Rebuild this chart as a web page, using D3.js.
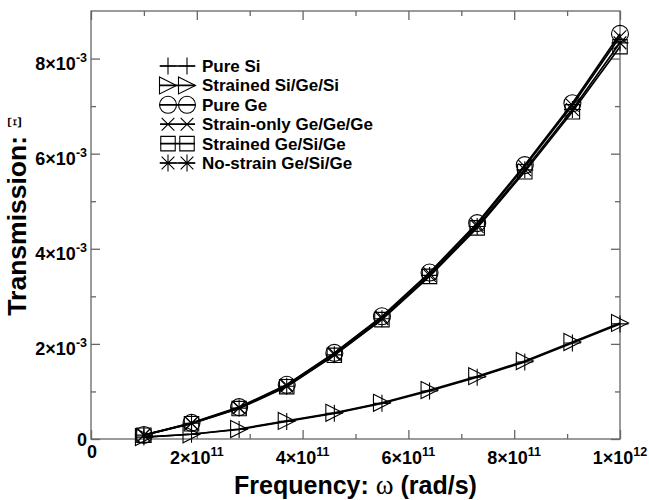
<!DOCTYPE html>
<html>
<head>
<meta charset="utf-8">
<script src="https://cdn.jsdelivr.net/npm/d3@7"></script>
<style>
  body { margin: 0; background: white; }
  svg { display: block; font-family: 'Liberation Sans', Arial, sans-serif; }
</style>
</head>
<body>
<svg id="chart" width="649" height="500"></svg>
<script>
// frequency points (rad/s)
const freq = [1e11, 1.9e11, 2.8e11, 3.7e11, 4.6e11, 5.5e11, 6.4e11, 7.3e11, 8.2e11, 9.1e11, 1e12]

// transmission, in units of 1e-3
const pureSi = [0.04, 0.10, 0.20, 0.37, 0.54, 0.75, 1.01, 1.30, 1.62, 2.02, 2.42]
const strainedSiGeSi = [0.04, 0.10, 0.21, 0.38, 0.55, 0.76, 1.03, 1.32, 1.64, 2.04, 2.44]
const pureGe = [0.085, 0.34, 0.67, 1.14, 1.81, 2.58, 3.50, 4.54, 5.76, 7.06, 8.52]
const strainOnlyGe = [0.083, 0.33, 0.66, 1.13, 1.80, 2.56, 3.48, 4.51, 5.73, 7.02, 8.46]
const strainedGeSiGe = [0.08, 0.32, 0.64, 1.10, 1.76, 2.51, 3.42, 4.44, 5.62, 6.88, 8.25]
const noStrainGeSiGe = [0.081, 0.33, 0.65, 1.11, 1.77, 2.53, 3.44, 4.47, 5.66, 6.93, 8.33]

const seriesNames = ['Pure Si', 'Strained Si/Ge/Si', 'Pure Ge', 'Strain-only Ge/Ge/Ge', 'Strained Ge/Si/Ge', 'No-strain Ge/Si/Ge']
const seriesValues = [pureSi, strainedSiGeSi, pureGe, strainOnlyGe, strainedGeSiGe, noStrainGeSiGe]
const seriesMarkers = ['plus', 'triangle', 'circle', 'times', 'square', 'asterisk']

const xMajor = [0, 2e11, 4e11, 6e11, 8e11, 1e12]
const xMajorLabels = [['0', ''], ['2×10', '11'], ['4×10', '11'], ['6×10', '11'], ['8×10', '11'], ['1×10', '12']]
const xMinor = [1e11, 3e11, 5e11, 7e11, 9e11]
const yMajor = [0, 2e-3, 4e-3, 6e-3, 8e-3]
const yMajorLabels = [['0', ''], ['2×10', '-3'], ['4×10', '-3'], ['6×10', '-3'], ['8×10', '-3']]
const yMinor = [1e-3, 3e-3, 5e-3, 7e-3]

const margin = { top: 11, right: 29, bottom: 61, left: 91 }
const width = 649
const height = 500

const x = d3.scaleLinear().domain([0, 1e12]).range([margin.left, width - margin.right])
const y = d3.scaleLinear().domain([0, 9e-3]).range([height - margin.bottom, margin.top])

const svg = d3.select('#chart')

// marker shapes, r = half size
function markerPath (type, r) {
  const p = d3.path()
  if (type === 'plus') {
    p.moveTo(-r, 0); p.lineTo(r, 0)
    p.moveTo(0, -r); p.lineTo(0, r)
  } else if (type === 'times') {
    const k = r * 0.75
    p.moveTo(-k, -k); p.lineTo(k, k)
    p.moveTo(-k, k); p.lineTo(k, -k)
  } else if (type === 'asterisk') {
    const k = r * 0.75
    p.moveTo(-k, -k); p.lineTo(k, k)
    p.moveTo(-k, k); p.lineTo(k, -k)
    p.moveTo(0, -r); p.lineTo(0, r)
    p.moveTo(-r, 0); p.lineTo(r, 0)
  } else if (type === 'circle') {
    p.moveTo(r, 0); p.arc(0, 0, r, 0, 2 * Math.PI)
  } else if (type === 'square') {
    const k = r * 0.85
    p.rect(-k, -k, 2 * k, 2 * k)
  } else if (type === 'triangle') {
    p.moveTo(-r, -r); p.lineTo(r, 0); p.lineTo(-r, r); p.closePath()
  }
  return p.toString()
}

// ticks, inward on all four sides
const frame = svg.append('g').attr('stroke', '#666')
function tickAxis (axis, transform) {
  const g = svg.append('g').attr('transform', transform).call(axis)
  g.select('.domain').remove()
  g.selectAll('line').attr('stroke', '#666').attr('stroke-width', 1.3)
}
const bottomY = height - margin.bottom
const rightX = width - margin.right
tickAxis(d3.axisBottom(x).tickValues(xMajor).tickSize(-9).tickFormat(''), `translate(0,${bottomY})`)
tickAxis(d3.axisBottom(x).tickValues(xMinor).tickSize(-5).tickFormat(''), `translate(0,${bottomY})`)
tickAxis(d3.axisTop(x).tickValues(xMajor).tickSize(-9).tickFormat(''), `translate(0,${margin.top})`)
tickAxis(d3.axisTop(x).tickValues(xMinor).tickSize(-5).tickFormat(''), `translate(0,${margin.top})`)
tickAxis(d3.axisLeft(y).tickValues(yMajor).tickSize(-9).tickFormat(''), `translate(${margin.left},0)`)
tickAxis(d3.axisLeft(y).tickValues(yMinor).tickSize(-5).tickFormat(''), `translate(${margin.left},0)`)
tickAxis(d3.axisRight(y).tickValues(yMajor).tickSize(-9).tickFormat(''), `translate(${rightX},0)`)
tickAxis(d3.axisRight(y).tickValues(yMinor).tickSize(-5).tickFormat(''), `translate(${rightX},0)`)

frame.append('rect')
  .attr('x', margin.left)
  .attr('y', margin.top)
  .attr('width', rightX - margin.left)
  .attr('height', bottomY - margin.top)
  .attr('fill', 'none')
  .attr('stroke-width', 1.3)

// tick labels with superscript exponents
function expLabel (sel, base, exp) {
  sel.append('tspan').text(base)
  if (exp) {
    sel.append('tspan').attr('font-size', 12.5).attr('dy', -8).text(exp)
  }
}

xMajor.forEach((v, i) => {
  const [base, exp] = xMajorLabels[i]
  const t = svg.append('text')
    .attr('x', x(v) + (exp ? 0 : 1))
    .attr('y', bottomY + (exp ? 25 : 19))
    .attr('text-anchor', 'middle')
    .attr('font-size', 18)
    .attr('font-weight', 'bold')
  expLabel(t, base, exp)
})

yMajor.forEach((v, i) => {
  const [base, exp] = yMajorLabels[i]
  const t = svg.append('text')
    .attr('x', margin.left - 4)
    .attr('y', y(v) + (exp ? 11 : 7))
    .attr('text-anchor', 'end')
    .attr('font-size', 18)
    .attr('font-weight', 'bold')
  expLabel(t, base, exp)
})

// axis titles
const xt = svg.append('text')
  .attr('x', (margin.left + rightX) / 2)
  .attr('y', 494)
  .attr('text-anchor', 'middle')
  .attr('font-size', 25)
  .attr('font-weight', 'bold')
xt.append('tspan').text('Frequency: ')
xt.append('tspan').attr('font-family', "'Liberation Serif', serif").attr('font-weight', 'normal').attr('font-size', 27).text('ω')
xt.append('tspan').text(' (rad/s)')

const yt = svg.append('text')
  .attr('transform', 'translate(26,216) rotate(-90)')
  .attr('text-anchor', 'middle')
  .attr('font-size', 26.5)
  .attr('font-weight', 'bold')
yt.append('tspan').text('Transmission: ')
yt.append('tspan').attr('font-family', "'Liberation Serif', serif").attr('font-weight', 'normal').attr('font-size', 19).attr('dy', -5).text('Ξ')

// series lines
const line = d3.line()
  .x((d, i) => x(freq[i]))
  .y(d => y(d * 1e-3))

seriesValues.forEach((vals) => {
  svg.append('path')
    .datum(vals)
    .attr('fill', 'none')
    .attr('stroke', 'black')
    .attr('stroke-width', 1.7)
    .attr('d', line)
})

// markers
seriesValues.forEach((vals, s) => {
  svg.append('g')
    .selectAll('path')
    .data(vals)
    .join('path')
    .attr('transform', (d, i) => `translate(${x(freq[i])},${y(d * 1e-3)})`)
    .attr('d', markerPath(seriesMarkers[s], 8.5))
    .attr('fill', 'none')
    .attr('stroke', 'black')
    .attr('stroke-width', 1.1)
})

// legend
const legend = svg.append('g')
seriesNames.forEach((name, i) => {
  const ly = 66 + i * 19.4
  const row = legend.append('g').attr('transform', `translate(0,${ly})`)
  row.append('line')
    .attr('x1', 160).attr('x2', 195)
    .attr('stroke', 'black').attr('stroke-width', 1.7)
  ;[168, 187].forEach(mx => {
    row.append('path')
      .attr('transform', `translate(${mx},0)`)
      .attr('d', markerPath(seriesMarkers[i], 8.5))
      .attr('fill', 'none')
      .attr('stroke', 'black')
      .attr('stroke-width', 1.1)
  })
  row.append('text')
    .attr('x', 202)
    .attr('y', 6)
    .attr('font-size', 17)
    .attr('font-weight', 'bold')
    .text(name)
})
</script>
</body>
</html>
